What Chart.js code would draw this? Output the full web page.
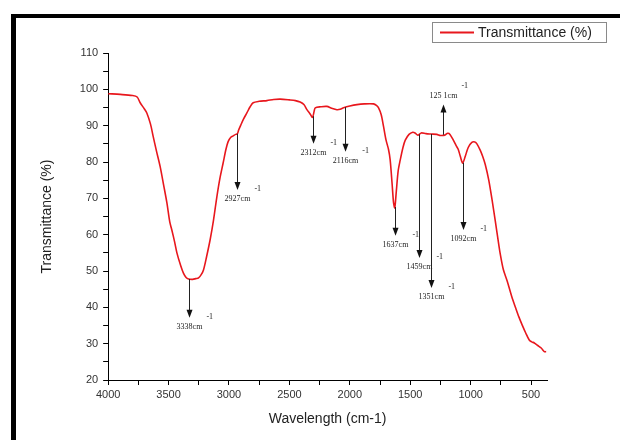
<!DOCTYPE html>
<html>
<head>
<meta charset="utf-8">
<script src="https://cdn.jsdelivr.net/npm/chart.js@4.4.1/dist/chart.umd.min.js"></script>
<style>
  html, body { margin: 0; padding: 0; background: #fff; }
  #wrap { width: 620px; height: 440px; position: relative; }
</style>
</head>
<body>
<div id="wrap"><canvas id="ir"></canvas></div>
<script>
// FTIR spectrum
const wavenumbers = [
  4000, 3900, 3800, 3760, 3735, 3700, 3680, 3650, 3627, 3600,
  3570, 3540, 3514, 3490, 3473, 3450, 3431, 3400, 3377, 3355,
  3335, 3300, 3275, 3252, 3230, 3211, 3185, 3156, 3128, 3100,
  3075, 3048, 3025, 3007, 2985, 2965, 2945, 2930, 2920, 2907,
  2880, 2852, 2825, 2800, 2750, 2686, 2630, 2576, 2500, 2450,
  2411, 2380, 2355, 2330, 2309, 2295, 2286, 2240, 2190, 2150,
  2107, 2080, 2052, 2000, 1941, 1880, 1804, 1780, 1762, 1740,
  1721, 1700, 1680, 1666, 1650, 1638, 1628, 1615, 1600, 1583,
  1560, 1541, 1510, 1479, 1460, 1437, 1409, 1370, 1326, 1280,
  1250, 1214, 1190, 1171, 1140, 1120, 1103, 1085, 1066, 1045,
  1020, 990, 965, 948, 920, 900, 879, 850, 820, 797,
  766, 755, 730, 697, 660, 627, 600, 573, 545, 515,
  495, 473, 445, 416, 390, 375
];
const transmittance = [
  98.8, 98.6, 98.3, 97.9, 96.3, 94.6, 93.5, 90.5, 87.0, 83.0,
  78.8, 73.5, 68.8, 63.5, 61.3, 58.0, 55.0, 51.5, 49.4, 48.2,
  47.8, 47.7, 47.9, 48.1, 49.0, 50.3, 54.0, 58.6, 64.0, 70.5,
  75.5, 79.8, 83.5, 85.6, 86.8, 87.2, 87.6, 87.8, 88.8, 89.8,
  91.8, 93.5, 95.2, 96.3, 96.7, 96.9, 97.2, 97.3, 97.1, 96.9,
  96.5, 95.8, 94.4, 93.3, 92.3, 94.0, 94.9, 95.2, 95.3, 94.8,
  94.4, 94.5, 94.9, 95.4, 95.8, 96.0, 96.0, 95.6, 94.9, 93.0,
  89.8, 86.0, 83.5, 80.6, 74.0, 68.8, 67.4, 72.0, 77.5, 80.5,
  84.0, 86.0, 87.6, 88.2, 88.0, 87.4, 88.0, 87.8, 87.7, 87.6,
  87.3, 87.4, 87.9, 87.6, 85.8, 84.5, 83.5, 81.5, 79.7, 81.5,
  84.0, 85.4, 85.5, 85.0, 83.2, 81.5, 79.3, 75.0, 69.0, 64.0,
  57.0, 54.7, 50.5, 47.2, 43.0, 39.8, 37.3, 35.1, 33.0, 31.0,
  30.5, 30.2, 29.5, 28.8, 27.8, 27.8
];

// peak annotations: label, position, arrow tail and arrow tip (in %T)
const peakLabels = ['3338', '2927', '2312', '2116', '1637', '1459', '1351', '1092', '125 1'];
const peakX      = [3330, 2930, 2305, 2040, 1622, 1426, 1326, 1061, 1227];
const peakFrom   = [47.8, 87.8, 92.6, 95.1, 67.6, 87.6, 87.7, 79.8, 87.5];
const peakTo     = [37.1, 72.3, 85.0, 82.8, 59.7, 53.6, 45.3, 61.3, 95.8];

const seriesName = 'Transmittance (%)';
const sansFont = '"Liberation Sans", Arial, sans-serif';

// black frame left over from the original figure
const framePlugin = {
  id: 'frame',
  beforeDraw(chart) {
    const ctx = chart.ctx;
    ctx.save();
    ctx.fillStyle = '#fff';
    ctx.fillRect(0, 0, chart.width, chart.height);
    ctx.fillStyle = '#000';
    ctx.fillRect(11, 14, chart.width - 11, 4);
    ctx.fillRect(11, 14, 5, chart.height - 14);
    ctx.restore();
  }
};

// arrows + wavenumber labels
const peakPlugin = {
  id: 'peaks',
  afterDatasetsDraw(chart) {
    const ctx = chart.ctx;
    const xs = chart.scales.x, ys = chart.scales.y;
    ctx.save();
    peakX.forEach((w, i) => {
      const x = Math.round(xs.getPixelForValue(w)) + 0.5;
      const y1 = ys.getPixelForValue(peakFrom[i]);
      const y2 = ys.getPixelForValue(peakTo[i]);
      const dir = y2 > y1 ? 1 : -1;
      ctx.strokeStyle = '#222';
      ctx.fillStyle = '#111';
      ctx.lineWidth = 1;
      ctx.beginPath();
      ctx.moveTo(x, y1);
      ctx.lineTo(x, y2 - dir * 6);
      ctx.stroke();
      ctx.beginPath();
      ctx.moveTo(x - 3, y2 - dir * 8);
      ctx.lineTo(x + 3, y2 - dir * 8);
      ctx.lineTo(x, y2);
      ctx.closePath();
      ctx.fill();

      ctx.font = '8px "Liberation Serif", serif';
      ctx.fillStyle = '#222';
      ctx.textAlign = 'center';
      const txt = peakLabels[i] + 'cm';
      const ty = dir > 0 ? y2 + 9 : y2 - 9;
      ctx.textBaseline = 'middle';
      ctx.fillText(txt, x, ty);
      const tw = ctx.measureText(txt).width;
      ctx.font = '8px "Liberation Serif", serif';
      ctx.textAlign = 'left';
      ctx.fillText('-1', x + tw / 2 + 4, ty - 10);
    });
    ctx.restore();
  }
};

// boxed legend in the top right corner
const legendBoxPlugin = {
  id: 'legendBox',
  afterDraw(chart) {
    const ctx = chart.ctx;
    ctx.save();
    ctx.strokeStyle = '#8a8a8a';
    ctx.lineWidth = 1;
    ctx.strokeRect(432.5, 22.5, 174, 20);
    ctx.strokeStyle = chart.data.datasets[0].borderColor;
    ctx.lineWidth = 2;
    ctx.beginPath();
    ctx.moveTo(440, 32.5);
    ctx.lineTo(474, 32.5);
    ctx.stroke();
    ctx.fillStyle = '#222';
    ctx.font = '14px ' + sansFont;
    ctx.textBaseline = 'middle';
    ctx.fillText(seriesName, 478, 33);
    ctx.restore();
  }
};

const tickFont = { family: sansFont, size: 11 };

new Chart(document.getElementById('ir'), {
  type: 'line',
  data: {
    datasets: [{
      label: seriesName,
      data: wavenumbers.map((w, i) => ({ x: w, y: transmittance[i] })),
      borderColor: '#e8171d',
      borderWidth: 1.6,
      pointRadius: 0,
      tension: 0.3,
      fill: false,
    }],
  },
  options: {
    responsive: true,
    maintainAspectRatio: false,
    animation: false,
    layout: { padding: { left: 10, top: 53, right: 73, bottom: 0 } },
    plugins: {
      legend: { display: false },
      tooltip: { enabled: false },
    },
    scales: {
      x: {
        type: 'linear',
        reverse: true,
        min: 368,
        max: 4000,
        border: { color: '#000', width: 1 },
        grid: { drawOnChartArea: false, drawTicks: true, tickLength: 5, tickColor: '#000' },
        ticks: {
          stepSize: 250,
          includeBounds: false,
          autoSkip: false,
          maxRotation: 0,
          padding: 3,
          color: '#333',
          font: tickFont,
          callback: v => (v % 500 === 0 ? v : ''),
        },
        title: {
          display: true,
          text: 'Wavelength (cm-1)',
          color: '#222',
          font: { family: sansFont, size: 14 },
          padding: { top: 7, bottom: 12 },
        },
      },
      y: {
        min: 20,
        max: 110,
        border: { color: '#000', width: 1 },
        grid: { drawOnChartArea: false, drawTicks: true, tickLength: 5, tickColor: '#000' },
        ticks: {
          stepSize: 5,
          autoSkip: false,
          padding: 5,
          color: '#333',
          font: tickFont,
          callback: v => (v % 10 === 0 ? v : ''),
        },
        title: {
          display: true,
          text: 'Transmittance (%)',
          color: '#222',
          font: { family: sansFont, size: 14 },
          padding: { top: 29, bottom: 19 },
        },
      },
    },
  },
  plugins: [framePlugin, peakPlugin, legendBoxPlugin],
});
</script>
</body>
</html>
